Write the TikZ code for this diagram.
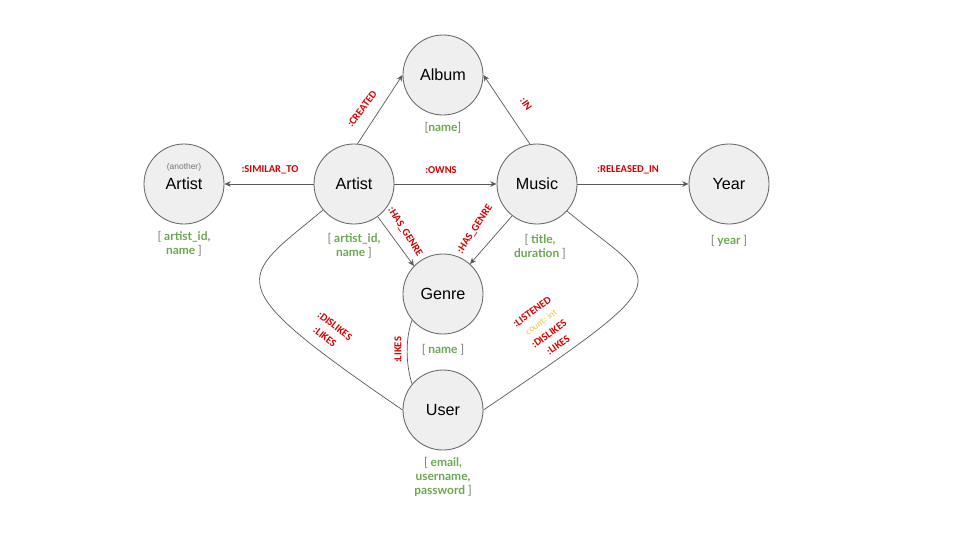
\documentclass[tikz,border=0pt]{standalone}
\usepackage{fontspec}
\setmainfont{Liberation Sans}
\newfontfamily\relfont{Carlito}
\newfontfamily\propfont{Lato}
\usetikzlibrary{arrows.meta}

\newcommand{\pbr}[1]{{\color{brkgray}\mdseries #1}}

\begin{document}
\begin{tikzpicture}[
    x=0.025cm, y=-0.025cm,
    entity/.style={circle, draw=nodeline, fill=nodefill, line width=0.6pt, minimum size=2cm, inner sep=0pt, font=\fontsize{11.5}{13}\selectfont},
    rel/.style={font=\relfont\bfseries\fontsize{7.5}{9}\selectfont, text=relred, inner sep=1pt},
    prop/.style={font=\propfont\bfseries\fontsize{8.5}{10}\selectfont, text=propgreen, align=center},
    edge/.style={draw=edgeline, line width=0.5pt, -{Stealth[length=4.5pt, width=4pt]}},
    link/.style={draw=edgeline, line width=0.5pt}
]
\definecolor{nodefill}{RGB}{239,239,239}
\definecolor{nodeline}{RGB}{102,102,102}
\definecolor{edgeline}{RGB}{89,89,89}
\definecolor{relred}{RGB}{214,0,0}
\definecolor{propgreen}{RGB}{106,168,79}
\definecolor{countyellow}{RGB}{241,194,50}
\definecolor{brkgray}{RGB}{117,117,117}

\useasboundingbox (0,0) rectangle (960,540);

\node[entity] (album) at (443,75) {Album};
\node[entity] (other) at (184,184) {Artist};
\node[entity] (artist) at (354,184) {Artist};
\node[entity] (music) at (537,184) {Music};
\node[entity] (year) at (729,184) {Year};
\node[entity] (genre) at (443,294) {Genre};
\node[entity] (user) at (443,410) {User};

\node[font=\fontsize{6}{7}\selectfont, text=brkgray] (another) at (184,167) {(another)};

\node[prop] (albumprop) at (443,128) {\pbr{[}name\pbr{]}};
\node[prop] (otherprop) at (184,244) {\pbr{[} artist\_id,\\ name \pbr{]}};
\node[prop] (artistprop) at (354,246) {\pbr{[} artist\_id,\\ name \pbr{]}};
\node[prop] (musicprop) at (540,247) {\pbr{[} title,\\ duration \pbr{]}};
\node[prop] (yearprop) at (729,241) {\pbr{[} year \pbr{]}};
\node[prop] (genreprop) at (443,350) {\pbr{[} name \pbr{]}};
\node[prop] (userprop) at (443,477) {\pbr{[} email,\\ username,\\ password \pbr{]}};

\draw[edge] (artist.85) -- (album.west);
\draw[edge] (music.100) -- (album.east);
\draw[edge] (artist) -- (other);
\draw[edge] (artist) -- (music);
\draw[edge] (music) -- (year);
\draw[edge] (artist.-54) -- (genre.136);
\draw[edge] (music.-128) -- (genre.48);
\draw[link] (artist.220) .. controls (239,280) and (214,281) .. (user.west);
\draw[link] (music.-42) .. controls (659,288) and (690,270) .. (user.east);
\draw[link] (genre.220) .. controls (405,340) and (406,365) .. (user.140);

\node[rel] (similar) at (270,170) {:SIMILAR\_TO};
\node[rel] (owns) at (441,170) {:OWNS};
\node[rel] (released) at (628,170) {:RELEASED\_IN};
\node[rel, rotate=53] (created) at (362,109) {:CREATED};
\node[rel, rotate=-55] (in) at (526,104) {:IN};
\node[rel, rotate=-58] (hasgenrea) at (405,232) {:HAS\_GENRE};
\node[rel, rotate=57] (hasgenreb) at (475,229) {:HAS\_GENRE};
\node[rel, rotate=90] (likesgenre) at (398,350) {:LIKES};
\node[rel, rotate=-38] (dislikesa) at (335,326) {:DISLIKES};
\node[rel, rotate=-38] (likesa) at (325,337) {:LIKES};
\node[rel, rotate=36] (listened) at (532,312) {:LISTENED};
\node[rel, rotate=36, font=\relfont\fontsize{6.5}{8}\selectfont, text=countyellow] (count) at (541,322) {count: int};
\node[rel, rotate=36] (dislikesb) at (549,334) {:DISLIKES};
\node[rel, rotate=36] (likesb) at (558,345) {:LIKES};
\end{tikzpicture}
\end{document}
